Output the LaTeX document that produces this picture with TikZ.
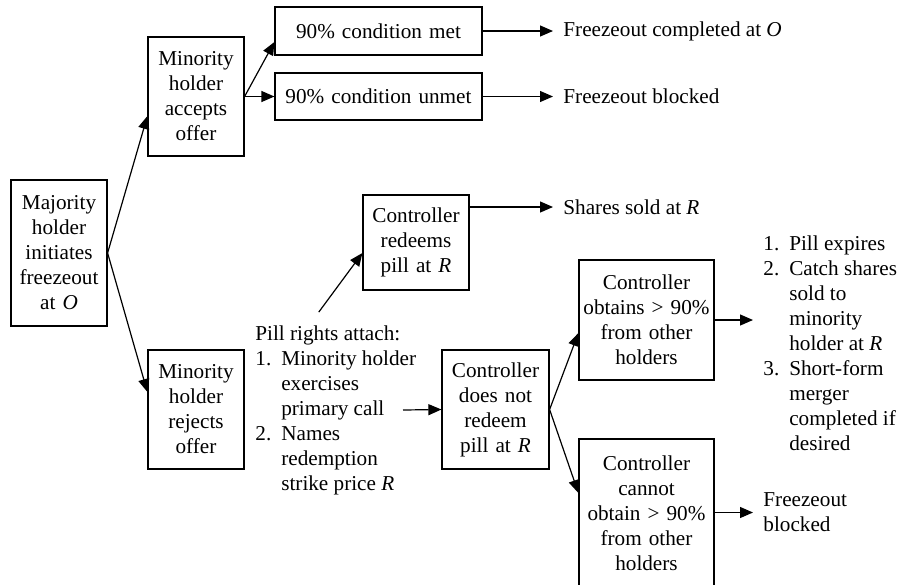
\documentclass[tikz,border=0pt]{standalone}
\usepackage{fontspec}
\setmainfont{Liberation Serif}
\usetikzlibrary{arrows.meta}

\begin{document}
\begin{tikzpicture}[x=0.5pt, y=-0.5pt,
        font=\fontsize{10.6pt}{12.5pt}\selectfont,
        box/.style={draw, line width=0.6pt, align=center, inner sep=0pt},
        outcome/.style={anchor=west, align=left, inner xsep=5pt, inner ysep=0pt},
        arr/.style={line width=0.6pt, -{Triangle[length=6.5pt,width=5.5pt]}}]
            \useasboundingbox (0,0) rectangle (899,584);
            \node[box, text width=48pt, minimum height=73pt] (major) at (59,253) {Majority\\holder\\initiates\\freezeout\\at \textit{O}};
            \node[box, text width=48pt, minimum height=59.5pt] (accept) at (196,96.5) {Minority\\holder\\accepts\\offer};
            \node[box, text width=48pt, minimum height=59.5pt] (reject) at (196,409.5) {Minority\\holder\\rejects\\offer};
            \node[box, text width=103.5pt, minimum height=24pt] (met) at (378.5,31) {90\% condition met};
            \node[box, text width=103.5pt, minimum height=23.5pt] (unmet) at (378.5,96.5) {90\% condition unmet};
            \node[box, text width=53pt, minimum height=47.5pt] (redeem) at (416,242.5) {Controller\\redeems\\pill at \textit{R}};
            \node[box, text width=53.5pt, minimum height=59.5pt] (noredeem) at (495.5,409.5) {Controller\\does not\\redeem\\pill at \textit{R}};
            \node[box, text width=67.5pt, minimum height=60pt] (obtain) at (646.5,320) {Controller\\obtains > 90\%\\from other\\holders};
            \node[box, text width=67.5pt, minimum height=74pt] (cannot) at (646.5,513) {Controller\\cannot\\obtain > 90\%\\from other\\holders};

            \node[outcome] (done) at (553,31) {Freezeout completed at \textit{O}};
            \node[outcome] (blocked) at (553,96.5) {Freezeout blocked};
            \node[outcome] (shares) at (553,207) {Shares sold at \textit{R}};
            \node[outcome] (blockedb) at (753,512.5) {Freezeout\\blocked};
            \node[outcome] (steps) at (753,345) {\begin{tabular}{@{}r@{\hspace{5pt}}l@{}}
                1. & Pill expires\\
                2. & Catch shares\\
                   & sold to\\
                   & minority\\
                   & holder at \textit{R}\\
                3. & Short-form\\
                   & merger\\
                   & completed if\\
                   & desired
            \end{tabular}};
            \node[anchor=west, inner sep=0pt] (pill) at (255,410) {\begin{tabular}{@{}r@{\hspace{5pt}}l@{}}
                \multicolumn{2}{@{}l@{}}{Pill rights attach:}\\
                1. & Minority holder\\
                   & exercises\\
                   & primary call\\
                2. & Names\\
                   & redemption\\
                   & strike price \textit{R}
            \end{tabular}};
            \coordinate (call) at (403,410);

            \draw[arr] (major.east) -- ([yshift=-9.75pt]accept.west);
            \draw[arr] (major.east) -- ([yshift=8.75pt]reject.west);
            \draw[arr] (accept.east) -- ([yshift=-5.5pt]met.west);
            \draw[arr] (accept.east) -- (unmet.west);
            \draw[arr] (met.east) -- (done.west);
            \draw[arr] (unmet.east) -- (blocked.west);
            \draw[arr] ([xshift=-8.5pt,yshift=5pt]pill.north) -- ([yshift=-5.25pt]redeem.west);
            \draw[arr] (shares -| redeem.east) -- (shares.west);
            \draw[arr] (call) -- (noredeem.west);
            \draw[arr] (noredeem.east) -- ([yshift=-6.5pt]obtain.west);
            \draw[arr] (noredeem.east) -- ([yshift=10pt]cannot.west);
            \draw[arr] (obtain.east) -- (obtain.east -| steps.west);
            \draw[arr] (blockedb -| cannot.east) -- (blockedb.west);
        \end{tikzpicture}
\end{document}
